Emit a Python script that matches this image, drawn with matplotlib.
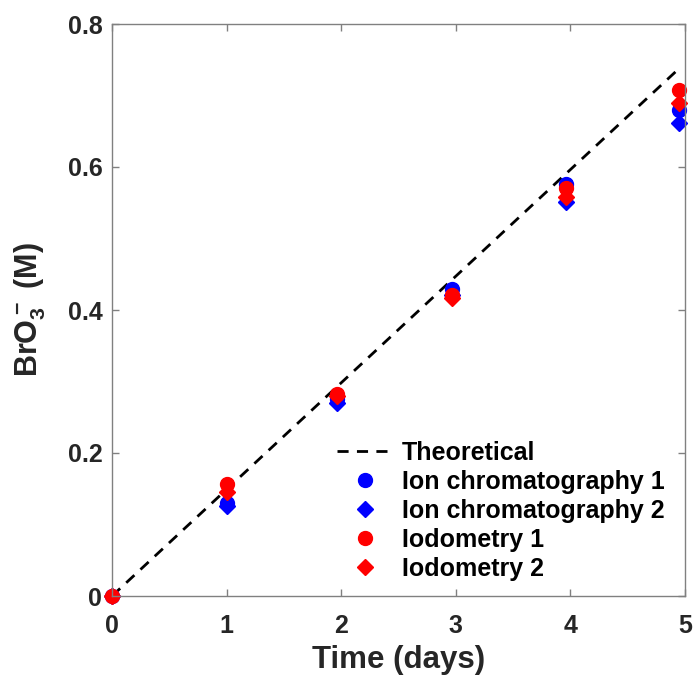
import matplotlib.pyplot as plt
import numpy as np

plt.rcParams['font.family'] = ['Liberation Sans', 'DejaVu Sans']
plt.rcParams['font.weight'] = 'bold'
plt.rcParams['mathtext.fontset'] = 'custom'
plt.rcParams['mathtext.rm'] = 'Liberation Sans:bold'
plt.rcParams['mathtext.bf'] = 'Liberation Sans:bold'
plt.rcParams['mathtext.default'] = 'bf'

# data
days = [0, 1.0, 1.96, 2.97, 3.96, 4.95]
theory_x = [0, 4.95]
theory_y = [0, 0.738]
ic1 = [0, 0.130, 0.275, 0.429, 0.576, 0.680]
ic2 = [0, 0.126, 0.270, 0.421, 0.551, 0.662]
iod1 = [0, 0.157, 0.282, 0.421, 0.571, 0.708]
iod2 = [0, 0.146, 0.280, 0.417, 0.558, 0.690]

fig = plt.figure(figsize=(6.96, 6.76), dpi=100)
ax = fig.add_axes([112/696, 1 - 596/676, (685 - 112)/696, (596 - 24)/676])

ax.plot(theory_x, theory_y, '--', color='k', lw=2, dashes=(4, 3), label='Theoretical')
ax.plot(days, ic1, 'o', color='blue', ms=10, clip_on=False, label='Ion chromatography 1')
ax.plot(days, ic2, 'D', color='blue', ms=8.5, clip_on=False, label='Ion chromatography 2')
ax.plot(days, iod1, 'o', color='red', ms=10, clip_on=False, label='Iodometry 1')
ax.plot(days, iod2, 'D', color='red', ms=8.5, clip_on=False, label='Iodometry 2')

ax.set_xlim(0, 5)
ax.set_ylim(0, 0.8)
ax.set_xticks([0, 1, 2, 3, 4, 5])
ax.set_yticks([0, 0.2, 0.4, 0.6, 0.8])
ax.set_yticklabels(['0', '0.2', '0.4', '0.6', '0.8'])
ax.tick_params(direction='in', length=5, width=1, colors='#808080',
               labelcolor='#262626', labelsize=18, top=True, right=True)
ax.tick_params(axis='x', pad=13)
ax.tick_params(axis='y', pad=7)
for sp in ax.spines.values():
    sp.set_color('#808080')
    sp.set_linewidth(1)

ax.set_xlabel('Time (days)', fontsize=22.5, fontweight='bold', color='#262626', labelpad=5)
ax.set_ylabel(r'BrO$_3^-$ (M)', fontsize=22, fontweight='bold', color='#262626', labelpad=14)

leg = ax.legend(loc='lower right', bbox_to_anchor=(0.99, 0.0), frameon=False,
                fontsize=18, handlelength=2.3, handletextpad=0.3, labelspacing=0.2,
                borderaxespad=0.2)
for t in leg.get_texts():
    t.set_fontweight('bold')

fig.savefig('out.png', dpi=100)
